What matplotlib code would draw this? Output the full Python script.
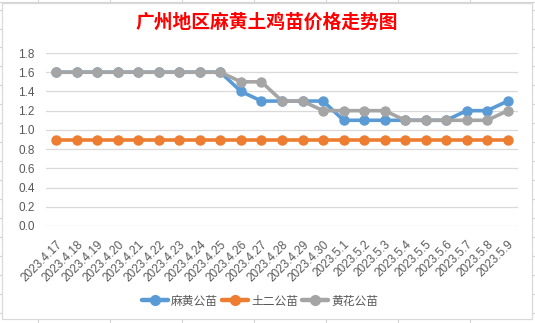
import matplotlib
matplotlib.use("Agg")
import matplotlib.pyplot as plt
from matplotlib.lines import Line2D
from matplotlib.patches import Rectangle

plt.rcParams['font.family'] = ['Noto Sans CJK SC', 'DejaVu Sans']

title = "广州地区麻黄土鸡苗价格走势图"
dates = ["2023.4.17", "2023.4.18", "2023.4.19", "2023.4.20", "2023.4.21", "2023.4.22",
         "2023.4.23", "2023.4.24", "2023.4.25", "2023.4.26", "2023.4.27", "2023.4.28",
         "2023.4.29", "2023.4.30", "2023.5.1", "2023.5.2", "2023.5.3", "2023.5.4",
         "2023.5.5", "2023.5.6", "2023.5.7", "2023.5.8", "2023.5.9"]
mahuang = [1.6, 1.6, 1.6, 1.6, 1.6, 1.6, 1.6, 1.6, 1.6, 1.4, 1.3, 1.3,
           1.3, 1.3, 1.1, 1.1, 1.1, 1.1, 1.1, 1.1, 1.2, 1.2, 1.3]
tuer = [0.9, 0.9, 0.9, 0.9, 0.9, 0.9, 0.9, 0.9, 0.9, 0.9, 0.9, 0.9,
        0.9, 0.9, 0.9, 0.9, 0.9, 0.9, 0.9, 0.9, 0.9, 0.9, 0.9]
huanghua = [1.6, 1.6, 1.6, 1.6, 1.6, 1.6, 1.6, 1.6, 1.6, 1.5, 1.5, 1.3,
            1.3, 1.2, 1.2, 1.2, 1.2, 1.1, 1.1, 1.1, 1.1, 1.1, 1.2]
series_names = ["麻黄公苗", "土二公苗", "黄花公苗"]
yticks = [0.0, 0.2, 0.4, 0.6, 0.8, 1.0, 1.2, 1.4, 1.6, 1.8]

W, H = 535, 323
fig = plt.figure(figsize=(W / 100, H / 100), dpi=100)
fig.patch.set_facecolor("white")

def fx(px):
    return px / W

def fy(py):
    return 1 - py / H

# spreadsheet background stubs outside the chart
gcol = "#d4d4d4"
for r in [10, 28.5, 47, 66, 85, 104, 123, 142, 161, 180, 199, 218, 237, 256, 275, 294, 313]:
    fig.add_artist(Line2D([fx(0), fx(2)], [fy(r), fy(r)], color=gcol, lw=0.8, zorder=-2))
    fig.add_artist(Line2D([fx(532), fx(535)], [fy(r), fy(r)], color=gcol, lw=0.8, zorder=-2))
for c in [38, 110, 182, 254, 326, 398, 470]:
    fig.add_artist(Line2D([fx(c), fx(c)], [fy(0), fy(3)], color=gcol, lw=0.8, zorder=-2))
    fig.add_artist(Line2D([fx(c), fx(c)], [fy(319), fy(323)], color=gcol, lw=0.8, zorder=-2))
fig.add_artist(Line2D([fx(0), fx(535)], [fy(2), fy(2)], color=gcol, lw=0.8, zorder=-2))
# chart border
fig.add_artist(Rectangle((fx(2), fy(319)), fx(530), 316 / H, transform=fig.transFigure,
                         fill=True, facecolor="white", edgecolor="#d9d9d9", lw=0.9, zorder=-1))

ax = fig.add_axes([fx(46), fy(226), fx(518 - 46), (226 - 53) / H])
ax.set_facecolor("none")
x = list(range(len(dates)))
colors = ["#5B9BD5", "#ED7D31", "#A5A5A5"]
for vals, name, col in zip([mahuang, tuer, huanghua], series_names, colors):
    ax.plot(x, vals, color=col, lw=2.6, marker="o", markersize=6.5, label=name,
            solid_capstyle="round", zorder=3, clip_on=False)

ax.set_xlim(-0.5, len(dates) - 0.5)
ax.set_ylim(0, 1.8)
ax.set_yticks(yticks)
ax.set_yticklabels([f"{v:.1f}" for v in yticks], fontsize=8.5, color="#595959",
                   family=["Liberation Sans", "DejaVu Sans"])
ax.yaxis.grid(True, color="#d9d9d9", lw=0.9)
ax.set_axisbelow(True)
for s in ax.spines.values():
    s.set_visible(False)
ax.tick_params(axis="both", length=0)
ax.tick_params(axis="y", pad=8)
ax.set_xticks(x)
ax.set_xticklabels(dates, rotation=45, ha="right", va="top", rotation_mode="anchor",
                   fontsize=8.5, color="#595959", family=["Liberation Sans", "DejaVu Sans"])
ax.tick_params(axis="x", pad=9)

fig.text(fx(267), fy(22), title, ha="center", va="center", color="#ff0000",
         fontsize=13.5, fontweight="bold")

leg = fig.legend(loc="center", bbox_to_anchor=(fx(260), fy(301)), ncol=3, frameon=False,
                 fontsize=8.5, handlelength=2.2, columnspacing=0.3, handletextpad=0.3,
                 labelcolor="#595959")
for h in leg.legend_handles:
    h.set_linewidth(3.2)
    h.set_markersize(7)

fig.savefig("out.png", dpi=100, facecolor="white")
